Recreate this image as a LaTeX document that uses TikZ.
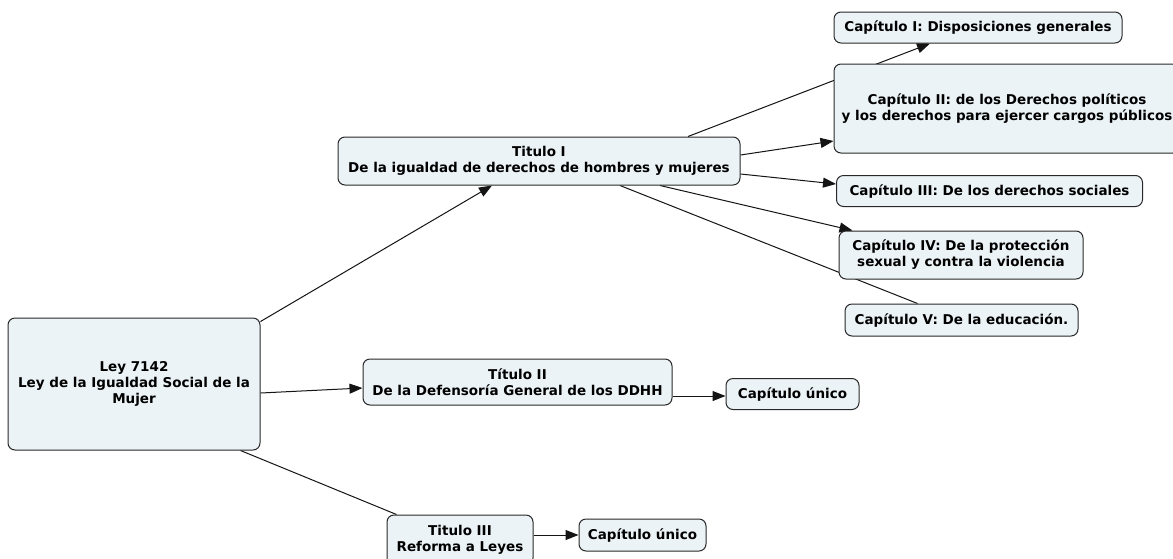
\documentclass[tikz,border=0pt]{standalone}
\usepackage{fontspec}
\setmainfont{DejaVu Sans}
\usetikzlibrary{arrows.meta,backgrounds}
\definecolor{boxfill}{RGB}{236,243,246}
\definecolor{boxline}{RGB}{40,40,40}
\definecolor{edgecol}{RGB}{20,20,20}
\tikzset{
  concept/.style={draw=boxline, line width=1pt, fill=boxfill, rounded corners=7pt,
    align=center, inner sep=0pt, font=\fontsize{13.5}{16}\selectfont\bfseries},
  link/.style={draw=edgecol, line width=1pt},
  arrowlink/.style={link, -{Triangle[length=13pt,width=10pt]}}
}
\begin{document}
\begin{tikzpicture}[x=1pt,y=-1pt]
\useasboundingbox (0,0) rectangle (1173,558);
% nodes
\node[concept, minimum width=252pt, minimum height=132pt] (root) at (134,384)
  {Ley 7142\\Ley de la Igualdad Social de la\\Mujer};
\node[concept, minimum width=402pt, minimum height=48pt] (t1) at (539,161)
  {Titulo I\\De la igualdad de derechos de hombres y mujeres};
\node[concept, minimum width=288pt, minimum height=31pt] (c1) at (978,27.5)
  {Capítulo I: Disposiciones generales};
\node[concept, minimum width=346pt, minimum height=89pt] (c2) at (1007,108.5)
  {Capítulo II: de los Derechos políticos\\ y los derechos para ejercer cargos públicos};
\node[concept, minimum width=306pt, minimum height=31pt] (c3) at (989.5,191)
  {Capítulo III: De los derechos sociales};
\node[concept, minimum width=244pt, minimum height=48pt] (c4) at (961,255)
  {Capítulo IV: De la protección\\sexual y contra la violencia};
\node[concept, minimum width=233pt, minimum height=32pt] (c5) at (961.5,320)
  {Capítulo V: De la educación.};
\node[concept, minimum width=309pt, minimum height=46pt] (t2) at (517.5,382)
  {Título II\\De la Defensoría General de los DDHH};
\node[concept, minimum width=133pt, minimum height=31pt] (cu2) at (792.5,394)
  {Capítulo único};
\node[concept, minimum width=146pt, minimum height=50pt] (t3) at (460,540)
  {Titulo III\\Reforma a Leyes};
\node[concept, minimum width=127pt, minimum height=32pt] (cu3) at (642.5,535)
  {Capítulo único};
% connectors
\begin{scope}[on background layer]
\fill[white] (0,0) rectangle (1173,558);
\draw[arrowlink] ([yshift=-4pt]root.north east) -- ([xshift=-47pt]t1.south);
\draw[arrowlink] ([yshift=-9pt]root.east) -- ([yshift=-6pt]t2.west);
\draw[link] ([xshift=-20pt]root.south east) -- ([xshift=10pt]t3.north west);
\draw[arrowlink] ([yshift=-14pt]t2.east) -- ([yshift=-2pt]cu2.west);
\draw[arrowlink] ([yshift=5pt]t3.east) -- (cu3.west);
\draw[arrowlink] ([xshift=149pt]t1.north) -- ([xshift=-48pt]c1.south);
\draw[arrowlink] ([yshift=6pt]t1.east) -- ([yshift=-32.5pt]c2.west);
\draw[arrowlink] ([yshift=-13pt]t1.east) -- ([yshift=7pt]c3.west);
\draw[arrowlink] ([xshift=121pt]t1.south) -- ([xshift=14pt]c4.north west);
\draw[link] ([xshift=81pt]t1.south) -- ([xshift=73pt]c5.north west);
\end{scope}
\end{tikzpicture}
\end{document}
